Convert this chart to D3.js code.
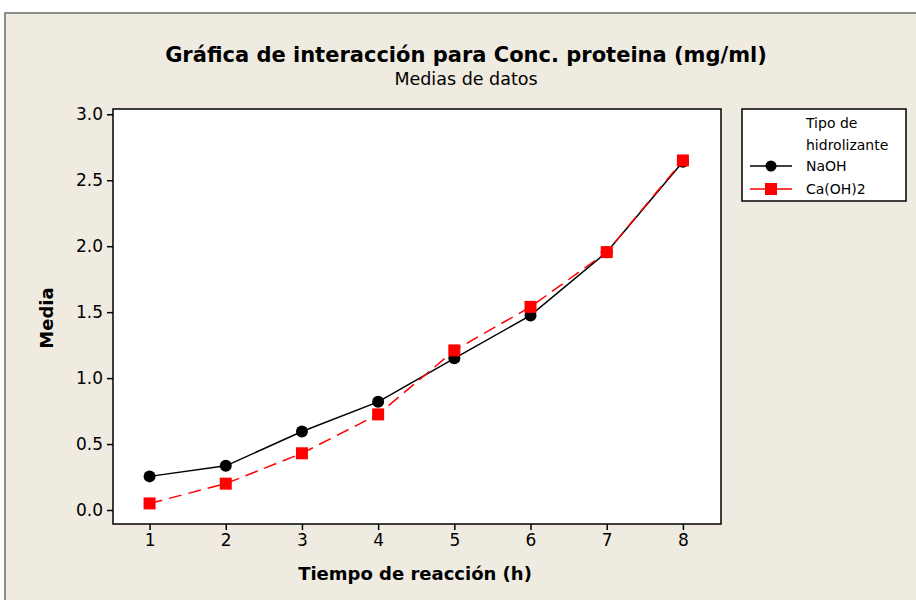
<!DOCTYPE html>
<html>
<head>
<meta charset="utf-8">
<script src="https://cdn.jsdelivr.net/npm/d3@7"></script>
<style>
  body { margin: 0; background: #fff; }
  svg { display: block; }
  text { font-family: "DejaVu Sans", Verdana, sans-serif; fill: #000; }
</style>
</head>
<body>
<svg id="chart" width="916" height="600"></svg>
<script>
const tiempos = [1, 2, 3, 4, 5, 6, 7, 8];
const naoh = [0.255, 0.335, 0.595, 0.82, 1.15, 1.475, 1.955, 2.64];
const caoh = [0.05, 0.20, 0.43, 0.725, 1.21, 1.54, 1.955, 2.65];
const yTicks = [0.0, 0.5, 1.0, 1.5, 2.0, 2.5, 3.0];
const seriesNames = ["NaOH", "Ca(OH)2"];

const svg = d3.select("#chart");
const width = 916, height = 600;
const margin = { top: 109, right: 195, bottom: 76, left: 113 };

// outer frame
svg.append("rect")
  .attr("x", 5).attr("y", 13)
  .attr("width", width).attr("height", height)
  .attr("fill", "#EFEBE1")
  .attr("stroke", "#6b6b6b").attr("stroke-width", 1.5);

const x = d3.scaleLinear()
  .domain([0.52, 8.5])
  .range([margin.left, width - margin.right]);

const y = d3.scaleLinear()
  .domain([-0.106, 3.04])
  .range([height - margin.bottom, margin.top]);

// plot area
svg.append("rect")
  .attr("x", margin.left).attr("y", margin.top)
  .attr("width", x.range()[1] - margin.left)
  .attr("height", y.range()[0] - margin.top)
  .attr("fill", "#fff")
  .attr("stroke", "#000").attr("stroke-width", 1.5);

// Axes
const xAxis = svg.append("g")
  .attr("transform", `translate(0,${height - margin.bottom})`)
  .call(d3.axisBottom(x).tickValues(tiempos).tickFormat(d3.format("d")).tickSize(6).tickPadding(4));

const yAxis = svg.append("g")
  .attr("transform", `translate(${margin.left},0)`)
  .call(d3.axisLeft(y).tickValues(yTicks).tickFormat(d3.format(".1f")).tickSize(6).tickPadding(4));

[xAxis, yAxis].forEach(g => {
  g.select(".domain").remove();
  g.selectAll("line").attr("stroke", "#000").attr("stroke-width", 1.5);
  g.selectAll("text")
    .style("font-family", "'DejaVu Sans', Verdana, sans-serif")
    .style("font-size", "17px");
});

// Lines
const line = d3.line()
  .x((d, i) => x(tiempos[i]))
  .y(d => y(d));

svg.append("path")
  .datum(naoh)
  .attr("d", line)
  .attr("fill", "none")
  .attr("stroke", "#000")
  .attr("stroke-width", 1.5);

svg.append("path")
  .datum(caoh)
  .attr("d", line)
  .attr("fill", "none")
  .attr("stroke", "#ff0000")
  .attr("stroke-width", 1.5)
  .attr("stroke-dasharray", "13,7");

// Points
svg.selectAll("circle.naoh")
  .data(naoh)
  .join("circle")
  .attr("class", "naoh")
  .attr("cx", (d, i) => x(tiempos[i]))
  .attr("cy", d => y(d))
  .attr("r", 6)
  .attr("fill", "#000");

svg.selectAll("rect.caoh")
  .data(caoh)
  .join("rect")
  .attr("class", "caoh")
  .attr("x", (d, i) => x(tiempos[i]) - 6)
  .attr("y", d => y(d) - 6)
  .attr("width", 12)
  .attr("height", 12)
  .attr("fill", "#ff0000");

// Title
svg.append("text")
  .attr("x", 466).attr("y", 62)
  .attr("text-anchor", "middle")
  .style("font-size", "21px")
  .style("font-weight", "bold")
  .text("Gráfica de interacción para Conc. proteina (mg/ml)");

svg.append("text")
  .attr("x", 466).attr("y", 85)
  .attr("text-anchor", "middle")
  .style("font-size", "17.5px")
  .text("Medias de datos");

// X-axis label
svg.append("text")
  .attr("x", 415).attr("y", 580)
  .attr("text-anchor", "middle")
  .style("font-size", "18px")
  .style("font-weight", "bold")
  .text("Tiempo de reacción (h)");

// Y-axis label
svg.append("text")
  .attr("transform", "rotate(-90)")
  .attr("x", -318).attr("y", 53)
  .attr("text-anchor", "middle")
  .style("font-size", "18px")
  .style("font-weight", "bold")
  .text("Media");

// Legend
const lg = svg.append("g");
lg.append("rect")
  .attr("x", 742).attr("y", 109)
  .attr("width", 164).attr("height", 92)
  .attr("fill", "#fff")
  .attr("stroke", "#000").attr("stroke-width", 1.5);

lg.append("text").attr("x", 806).attr("y", 128).style("font-size", "14px").text("Tipo de");
lg.append("text").attr("x", 806).attr("y", 150).style("font-size", "14px").text("hidrolizante");

const legendRows = [
  { name: seriesNames[0], color: "#000", shape: "circle", y: 166 },
  { name: seriesNames[1], color: "#ff0000", shape: "square", y: 189 }
];
legendRows.forEach(r => {
  lg.append("line")
    .attr("x1", 750).attr("x2", 792)
    .attr("y1", r.y).attr("y2", r.y)
    .attr("stroke", r.color).attr("stroke-width", 1.5);
  if (r.shape === "circle") {
    lg.append("circle").attr("cx", 771).attr("cy", r.y).attr("r", 5.5).attr("fill", r.color);
  } else {
    lg.append("rect").attr("x", 765).attr("y", r.y - 6).attr("width", 12).attr("height", 12).attr("fill", r.color);
  }
  lg.append("text")
    .attr("x", 806).attr("y", r.y + 5)
    .style("font-size", "14px")
    .text(r.name);
});
</script>
</body>
</html>
